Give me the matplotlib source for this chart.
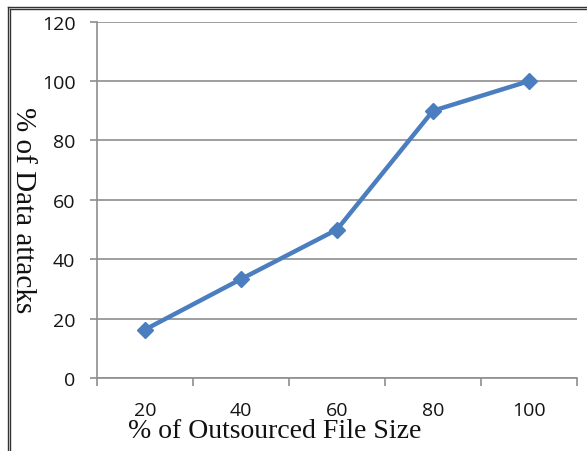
import matplotlib
matplotlib.use("Agg")
import matplotlib.pyplot as plt
from matplotlib.lines import Line2D
from matplotlib.ticker import FixedLocator, NullFormatter

# Data
file_size_labels = ["20", "40", "60", "80", "100"]
data_attacks = [16.3, 33.3, 50, 90, 100]
y_ticks = [0, 20, 40, 60, 80, 100, 120]

line_color = "#4A7EBF"
grid_color = "#8E8E8E"
tick_font = "Open Sans"
label_font = "Liberation Serif"

fig = plt.figure(figsize=(5.87, 4.52), dpi=100)
ax = fig.add_axes([97 / 587, 1 - 379 / 452, (577 - 97) / 587, (379 - 22.7) / 452])

x = list(range(len(file_size_labels)))
ax.plot(x, data_attacks, color=line_color, linewidth=3.2, marker="D",
        markersize=8.5, markerfacecolor=line_color, markeredgecolor=line_color,
        zorder=3, clip_on=False)

ax.set_xlim(-0.5, len(file_size_labels) - 0.5)
ax.set_ylim(0, 120)

# Category axis: labels at centers, tick marks on category boundaries
ax.set_xticks(x)
ax.set_xticklabels(file_size_labels)
ax.xaxis.set_minor_locator(FixedLocator([i - 0.5 for i in range(len(file_size_labels) + 1)]))
ax.xaxis.set_minor_formatter(NullFormatter())
ax.tick_params(axis="x", which="major", length=0, pad=16.5)
ax.tick_params(axis="x", which="minor", length=6, width=1.2, color=grid_color, direction="out")

ax.set_yticks(y_ticks)
ax.tick_params(axis="y", length=5, width=1.2, color=grid_color, direction="out", pad=10.5)

for lbl in ax.get_xticklabels() + ax.get_yticklabels():
    lbl.set_fontfamily(tick_font)
    lbl.set_fontsize(14)
    lbl.set_color("#141414")

ax.grid(axis="y", color=grid_color, linewidth=1.2)
ax.set_axisbelow(True)
for side in ("top", "right"):
    ax.spines[side].set_visible(False)
for side in ("left", "bottom"):
    ax.spines[side].set_color(grid_color)
    ax.spines[side].set_linewidth(1.2)

# Axis titles
fig.text(275 / 587, 1 - 438 / 452, "% of Outsourced File Size", fontfamily=label_font,
         fontsize=20, ha="center", va="baseline", color="#111111")
fig.text(23 / 587, 1 - 210 / 452, "% of Data attacks", fontfamily=label_font,
         fontsize=21, ha="center", va="center", rotation=-90, color="#111111")

# Double frame lines along the top and left edges
for off in (7.5, 9.5):
    fig.add_artist(Line2D([off / 587, off / 587], [0, 1 - off / 452],
                          transform=fig.transFigure, color="#333333", linewidth=1.0))
    fig.add_artist(Line2D([off / 587, 1], [1 - off / 452, 1 - off / 452],
                          transform=fig.transFigure, color="#333333", linewidth=1.0))

fig.savefig("out.png", dpi=100)
